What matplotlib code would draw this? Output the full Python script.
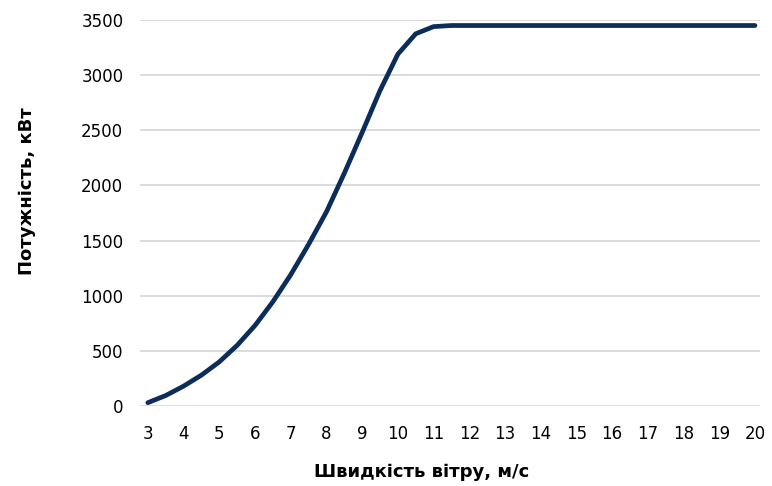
import matplotlib.pyplot as plt
import numpy as np

# Крива потужності вітрової турбіни
wind_speed = [3, 3.5, 4, 4.5, 5, 5.5, 6, 6.5, 7, 7.5, 8, 8.5, 9, 9.5, 10, 10.5,
              11, 11.5, 12, 12.5, 13, 13.5, 14, 14.5, 15, 15.5, 16, 16.5, 17,
              17.5, 18, 18.5, 19, 19.5, 20]
power = [30, 95, 180, 280, 400, 550, 730, 945, 1190, 1465, 1760, 2110, 2480,
         2860, 3190, 3375, 3440, 3450, 3450, 3450, 3450, 3450, 3450, 3450,
         3450, 3450, 3450, 3450, 3450, 3450, 3450, 3450, 3450, 3450, 3450]
x_ticks = list(range(3, 21))
y_ticks = list(range(0, 3501, 500))

plt.rcParams['font.family'] = ['DejaVu Sans']

fig = plt.figure(figsize=(7.72, 4.86), dpi=100)
ax = fig.add_axes([140 / 772, 80 / 486, 620 / 772, 386 / 486])

ax.plot(wind_speed, power, color='#0c2d5a', linewidth=3.4,
        solid_capstyle='round', solid_joinstyle='round', clip_on=False, zorder=3)

ax.set_xlim(2.78, 20.14)
ax.set_ylim(0, 3500)
ax.set_xticks(x_ticks)
ax.set_yticks(y_ticks)
ax.grid(axis='y', color='#d9d9d9', linewidth=1.3)
ax.set_axisbelow(True)
for s in ax.spines.values():
    s.set_visible(False)
ax.tick_params(length=0, labelsize=12, colors='#000000')
ax.tick_params(axis='y', pad=12)
ax.tick_params(axis='x', pad=14)

ax.set_xlabel('Швидкість вітру, м/с', fontsize=13, fontweight='bold')
ax.set_ylabel('Потужність, кВт', fontsize=13, fontweight='bold')
ax.xaxis.set_label_coords(0.455, -0.148)
ax.yaxis.set_label_coords(-0.168, 0.557)

fig.savefig('out.png', dpi=100)
